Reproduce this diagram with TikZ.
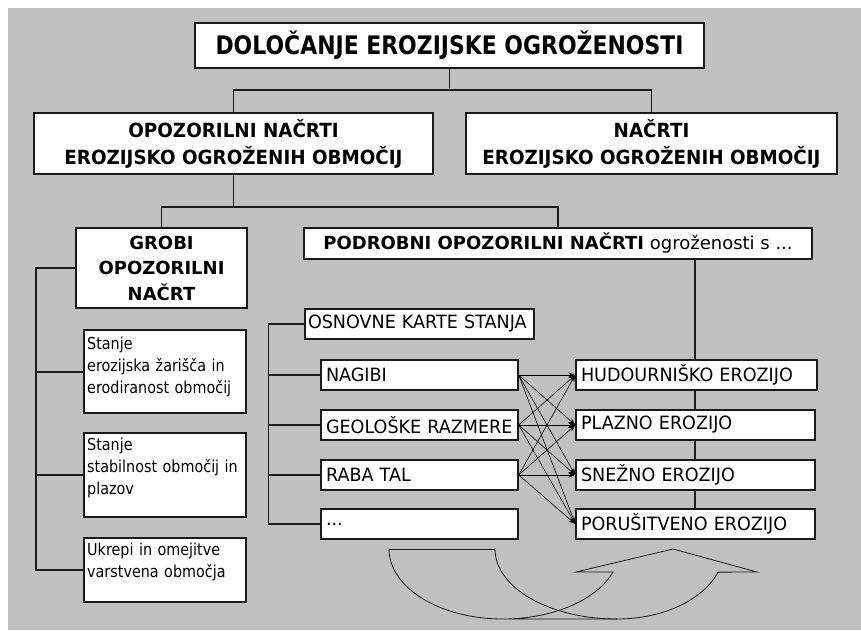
\documentclass[tikz,border=0pt]{standalone}
\usepackage{fontspec}
\setmainfont{DejaVu Sans}
\newfontfamily\ftitle{DejaVu Sans}[FakeStretch=0.86]
\newfontfamily\fhead{DejaVu Sans}[FakeStretch=0.94]
\newfontfamily\fmed{DejaVu Sans}[FakeStretch=0.96]
\newfontfamily\fsmall{DejaVu Sans}[FakeStretch=0.87]
\usetikzlibrary{arrows.meta}
\definecolor{bggray}{HTML}{C0C0C0}
\definecolor{ink}{HTML}{1A1A1A}
\tikzset{
  box/.style={draw=ink, line width=1.4pt, fill=white, inner sep=0pt, align=center},
  lbox/.style={box, align=left, inner xsep=#1},
  medf/.style={font=\fmed\fontsize{18.3}{22}\selectfont},
  stext/.style={font=\fsmall\fontsize{16.5}{22}\selectfont, align=left, text width=156pt, inner sep=0pt, anchor=base west},
  conn/.style={draw=ink, line width=1.4pt},
  arr/.style={draw=black, line width=0.6pt, -{Stealth[length=7pt,width=5pt]}},
  curv/.style={draw=ink, line width=0.8pt}
}
\begin{document}
\begin{tikzpicture}[x=1pt,y=-1pt]
\useasboundingbox (0,0) rectangle (861,630);
\fill[bggray] (8,8) rectangle (861,630);

% top level
\node[box, minimum width=509pt, minimum height=45pt,
  font=\ftitle\bfseries\fontsize{25.5}{30}\selectfont] (title) at (449.5,45.5) {DOLOČANJE EROZIJSKE OGROŽENOSTI};
\node[box, minimum width=399pt, minimum height=61pt,
  font=\fhead\bfseries\fontsize{19.5}{27}\selectfont] (opz) at (233.5,143.5) {OPOZORILNI NAČRTI\\EROZIJSKO OGROŽENIH OBMOČIJ};
\node[box, minimum width=371pt, minimum height=61pt,
  font=\fhead\bfseries\fontsize{19.5}{27}\selectfont] (nac) at (651.5,143.5) {NAČRTI\\EROZIJSKO OGROŽENIH OBMOČIJ};

% second level
\node[box, minimum width=171pt, minimum height=80pt,
  font=\bfseries\fontsize{18}{25.5}\selectfont] (grobi) at (161.5,268) {GROBI\\OPOZORILNI\\NAČRT};
\node[box, minimum width=508pt, minimum height=31pt,
  font=\fontsize{18}{22}\selectfont] (podr) at (558,243.5) {\textbf{PODROBNI OPOZORILNI NAČRTI} ogroženosti s ...};

% left column boxes
\node[box, minimum width=162pt, minimum height=83pt] (s1) at (165,371.5) {};
\node[box, minimum width=162pt, minimum height=84pt] (s2) at (165,475) {};
\node[box, minimum width=162pt, minimum height=64pt] (uk) at (165,570) {};
\node[stext] (s1t) at (87,349) {Stanje\\erozijska žarišča in\\erodiranost območij};
\node[stext] (s2t) at (87,450) {Stanje\\stabilnost območij in\\plazov};
\node[stext] (ukt) at (87,555) {Ukrepi in omejitve\\varstvena območja};

% middle column
\node[lbox=3pt, medf, text width=223pt, minimum height=30pt] (osn) at (419.5,324) {OSNOVNE KARTE STANJA};
\node[lbox=5pt, medf, text width=187pt, minimum height=30pt] (nag) at (419.5,375) {NAGIBI};
\node[lbox=5pt, medf, text width=187pt, minimum height=30pt] (geo) at (419.5,425) {GEOLOŠKE RAZMERE};
\node[lbox=5pt, medf, text width=187pt, minimum height=30pt] (raba) at (419.5,475) {RABA TAL};
\node[lbox=5pt, medf, text width=187pt, minimum height=30pt] (dots) at (419.5,524) {...};

% right column
\node[lbox=5pt, medf, text width=231pt, minimum height=30pt] (hud) at (696.5,375) {HUDOURNIŠKO EROZIJO};
\node[lbox=5pt, medf, text width=229pt, minimum height=30pt] (plaz) at (695.5,425) {PLAZNO EROZIJO};
\node[lbox=5pt, medf, text width=229pt, minimum height=30pt] (snez) at (695.5,475) {SNEŽNO EROZIJO};
\node[lbox=5pt, medf, text width=229pt, minimum height=30pt] (poru) at (695.5,524) {PORUŠITVENO EROZIJO};

% tree connectors
\coordinate (j1) at (449.5,90);
\draw[conn] (title.south) -- (j1);
\draw[conn] (opz.north) |- (j1) -| (nac.north);
\coordinate (j2) at (233.5,207);
\draw[conn] (opz.south) -- (j2);
\draw[conn] (grobi.north) |- (j2) -| (podr.north);

\coordinate (g0) at (36,268);
\coordinate (g1) at (36,372);
\draw[conn] (grobi.west) -- (g0) -- (g0 |- uk.west) -- (uk.west);
\draw[conn] (g1) -- (g1 -| s1.west);
\draw[conn] (g0 |- s2.west) -- (s2.west);

\coordinate (m0) at (268.5,324);
\draw[conn] (osn.west) -- (m0) -- (m0 |- dots.west) -- (dots.west);
\draw[conn] (m0 |- nag.west) -- (nag.west);
\draw[conn] (m0 |- geo.west) -- (geo.west);
\draw[conn] (m0 |- raba.west) -- (raba.west);

\coordinate (p0) at (695,259);
\draw[conn] (p0) -- (p0 |- hud.north);
\draw[conn] (hud.south -| p0) -- (plaz.north -| p0);
\draw[conn] (plaz.south -| p0) -- (snez.north -| p0);
\draw[conn] (snez.south -| p0) -- (poru.north -| p0);

% cross arrows
\foreach \s in {nag,geo,raba}{
  \foreach \t in {hud,plaz,snez,poru}{
    \draw[arr] (\s.east) -- (\t.west);
  }
}

% curved up arrow
\draw[curv] (389,549) -- (495,549);
\draw[curv] (389,549) arc[start angle=180,end angle=90,x radius=114,y radius=70]
  -- (617,619) arc[start angle=90,end angle=19.3,x radius=107,y radius=70]
  -- (757,572) -- (673,549) -- (576,572) -- (613,572)
  arc[start angle=19.2,end angle=90,x radius=116.5,y radius=70];
\draw[curv] (495,549) arc[start angle=180,end angle=90,x radius=122,y radius=70];
\end{tikzpicture}
\end{document}
